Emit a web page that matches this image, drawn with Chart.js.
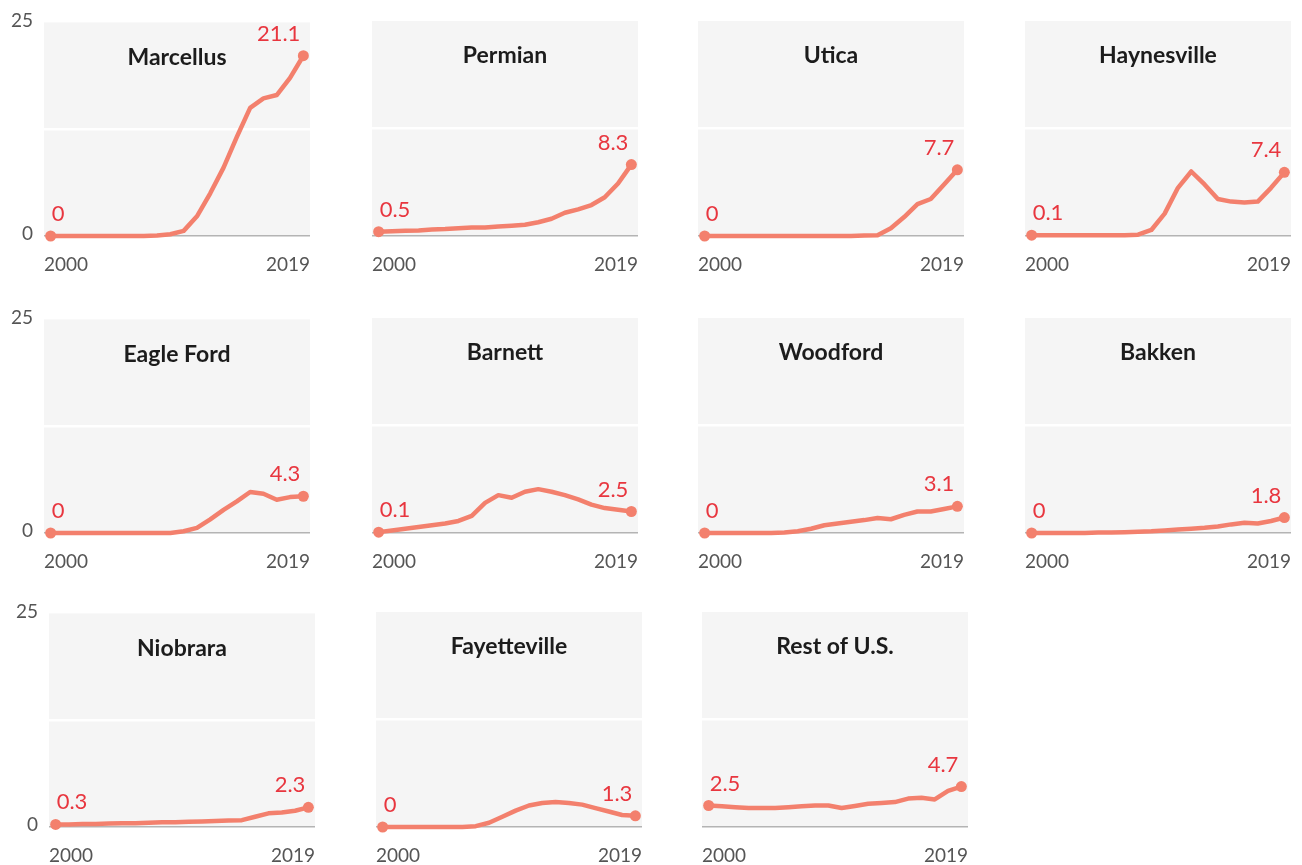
<!DOCTYPE html>
<html>
<head>
<meta charset="utf-8">
<script src="https://cdn.jsdelivr.net/npm/chart.js@4.4.1/dist/chart.umd.min.js"></script>
<style>
  body { margin: 0; background: #fff; }
  #grid { position: relative; width: 1302px; height: 865px; }
  .panel { position: absolute; }
</style>
</head>
<body>
<div id="grid"></div>
<script>
// Shale gas production by play, 2000-2019
const years = [2000, 2001, 2002, 2003, 2004, 2005, 2006, 2007, 2008, 2009,
  2010, 2011, 2012, 2013, 2014, 2015, 2016, 2017, 2018, 2019];
const xTickLabels = ["2000", "2019"];
const yTickValues = [0, 25];

const marcellus = [0, 0, 0, 0, 0, 0, 0, 0, 0.05, 0.2, 0.6, 2.3, 5.0, 8.0, 11.6, 15.0, 16.1, 16.5, 18.5, 21.1];
const permian = [0.5, 0.55, 0.6, 0.65, 0.75, 0.8, 0.9, 1.0, 1.0, 1.1, 1.2, 1.3, 1.6, 2.0, 2.7, 3.1, 3.6, 4.5, 6.1, 8.3];
const utica = [0, 0, 0, 0, 0, 0, 0, 0, 0, 0, 0, 0, 0.05, 0.1, 0.9, 2.2, 3.7, 4.3, 6.0, 7.7];
const haynesville = [0.1, 0.1, 0.1, 0.1, 0.1, 0.1, 0.1, 0.1, 0.15, 0.7, 2.6, 5.6, 7.5, 6.0, 4.3, 4.0, 3.9, 4.0, 5.6, 7.4];
const eagleFord = [0, 0, 0, 0, 0, 0, 0, 0, 0, 0, 0.2, 0.6, 1.6, 2.7, 3.7, 4.8, 4.6, 3.9, 4.2, 4.3];
const barnett = [0.1, 0.3, 0.5, 0.7, 0.9, 1.1, 1.4, 2.0, 3.5, 4.4, 4.1, 4.8, 5.1, 4.8, 4.4, 3.9, 3.3, 2.9, 2.7, 2.5];
const woodford = [0, 0, 0, 0, 0, 0, 0.05, 0.2, 0.5, 0.9, 1.1, 1.3, 1.5, 1.75, 1.6, 2.1, 2.5, 2.5, 2.8, 3.1];
const bakken = [0, 0, 0, 0, 0, 0.05, 0.05, 0.1, 0.15, 0.2, 0.3, 0.4, 0.5, 0.6, 0.75, 1.0, 1.2, 1.1, 1.4, 1.8];
const niobrara = [0.3, 0.3, 0.35, 0.35, 0.4, 0.45, 0.45, 0.5, 0.55, 0.55, 0.6, 0.65, 0.7, 0.75, 0.8, 1.2, 1.6, 1.7, 1.9, 2.3];
const fayetteville = [0, 0, 0, 0, 0, 0, 0, 0.1, 0.5, 1.2, 1.9, 2.5, 2.8, 2.9, 2.8, 2.6, 2.2, 1.8, 1.4, 1.3];
const restOfUS = [2.5, 2.4, 2.3, 2.2, 2.2, 2.2, 2.3, 2.4, 2.5, 2.5, 2.2, 2.45, 2.7, 2.8, 2.9, 3.3, 3.4, 3.2, 4.2, 4.7];

const regions = ["Marcellus", "Permian", "Utica", "Haynesville", "Eagle Ford", "Barnett",
  "Woodford", "Bakken", "Niobrara", "Fayetteville", "Rest of U.S."];
const regionValues = [marcellus, permian, utica, haynesville, eagleFord, barnett,
  woodford, bakken, niobrara, fayetteville, restOfUS];

// top-left corner of each grey plot area on the page
const panelOrigins = [
  [44, 21], [372, 21], [698, 21], [1025, 21],
  [44, 318], [372, 318], [698, 318], [1025, 318],
  [49, 612], [376, 612], [702, 612],
];

const AXIS_W = 44;
const PAD_TOP = 21;
const PLOT_W = 266;
const PLOT_H = 215;
const X_AXIS_H = 45;
const PAD_RIGHT = 8;

const lineColor = "#f3806d";
const labelColor = "#e8363f";
const tickColor = "#555555";

Chart.defaults.font.family = "Lato, 'Open Sans', sans-serif";

const panelBackground = {
  id: "panelBackground",
  beforeDraw(chart) {
    const { ctx, chartArea } = chart;
    ctx.save();
    ctx.fillStyle = "#f5f5f5";
    ctx.fillRect(chartArea.left, chartArea.top, chartArea.right - chartArea.left, chartArea.bottom - chartArea.top);
    ctx.restore();
  },
};

function panelTitle(text) {
  return {
    id: "panelTitle",
    afterDraw(chart) {
      const { ctx, chartArea } = chart;
      ctx.save();
      ctx.fillStyle = "#1c1c1c";
      ctx.font = "bold 23px Lato, sans-serif";
      ctx.textAlign = "center";
      ctx.textBaseline = "middle";
      ctx.fillText(text, (chartArea.left + chartArea.right) / 2, chartArea.top + 35);
      ctx.restore();
    },
  };
}

const endLabels = {
  id: "endLabels",
  afterDatasetsDraw(chart) {
    const { ctx } = chart;
    const values = chart.data.datasets[0].data;
    const points = chart.getDatasetMeta(0).data;
    const first = points[0];
    const last = points[points.length - 1];
    ctx.save();
    ctx.fillStyle = labelColor;
    ctx.font = "22px Lato, sans-serif";
    ctx.textBaseline = "alphabetic";
    ctx.textAlign = "left";
    ctx.fillText(String(values[0].y), first.x + 1, first.y - 15);
    ctx.textAlign = "right";
    ctx.fillText(String(values[values.length - 1].y), last.x - 3, last.y - 15);
    ctx.restore();
  },
};

function createPanel(index) {
  const [left, top] = panelOrigins[index];
  const showYTicks = index % 4 === 0 || index === 8;
  const values = regionValues[index];

  const canvas = document.createElement("canvas");
  canvas.className = "panel";
  canvas.width = AXIS_W + PLOT_W + PAD_RIGHT;
  canvas.height = PAD_TOP + PLOT_H + X_AXIS_H;
  canvas.style.left = (left - AXIS_W) + "px";
  canvas.style.top = (top - PAD_TOP) + "px";
  document.getElementById("grid").appendChild(canvas);

  const radii = values.map((v, i) => (i === 0 || i === values.length - 1 ? 5.5 : 0));

  new Chart(canvas.getContext("2d"), {
    type: "line",
    data: {
      datasets: [
        {
          data: years.map((year, i) => ({ x: year, y: values[i] })),
          borderColor: lineColor,
          backgroundColor: lineColor,
          borderWidth: 4.5,
          borderJoinStyle: "round",
          borderCapStyle: "round",
          tension: 0,
          pointRadius: radii,
          pointBorderWidth: 0,
          pointBackgroundColor: lineColor,
          clip: false,
        },
      ],
    },
    options: {
      responsive: false,
      animation: false,
      events: [],
      layout: { padding: { top: PAD_TOP, right: PAD_RIGHT, left: 0, bottom: 0 } },
      plugins: {
        legend: { display: false },
        tooltip: { enabled: false },
      },
      scales: {
        x: {
          type: "linear",
          min: years[0] - 0.5,
          max: years[years.length - 1] + 0.5,
          afterBuildTicks: (axis) => {
            axis.ticks = [{ value: axis.min }, { value: axis.max }];
          },
          afterFit: (axis) => {
            axis.height = X_AXIS_H;
            axis.paddingLeft = 0;
            axis.paddingRight = 0;
          },
          grid: { display: false, drawTicks: false },
          border: { display: false },
          ticks: {
            align: "inner",
            autoSkip: false,
            maxRotation: 0,
            padding: 17,
            color: tickColor,
            font: { size: 19 },
            callback: (value, i) => xTickLabels[i],
          },
        },
        y: {
          min: yTickValues[0],
          max: yTickValues[1],
          afterBuildTicks: (axis) => {
            axis.ticks = [yTickValues[0], yTickValues[1] / 2, yTickValues[1]].map((v) => ({ value: v }));
          },
          afterFit: (axis) => {
            axis.width = AXIS_W;
          },
          border: { display: false },
          grid: {
            drawTicks: false,
            color: (ctx) => {
              if (ctx.tick.value === yTickValues[0]) return "#b4b4b4";
              if (ctx.tick.value === yTickValues[1]) return "rgba(0,0,0,0)";
              return "#ffffff";
            },
            lineWidth: (ctx) => (ctx.tick.value === yTickValues[0] ? 1.5 : 2.5),
          },
          ticks: {
            display: showYTicks,
            padding: 11,
            labelOffset: -2,
            color: tickColor,
            font: { size: 19 },
            callback: (value) => (yTickValues.includes(value) ? String(value) : ""),
          },
        },
      },
    },
    plugins: [panelBackground, panelTitle(regions[index]), endLabels],
  });
}

regions.forEach((name, i) => createPanel(i));
</script>
</body>
</html>
